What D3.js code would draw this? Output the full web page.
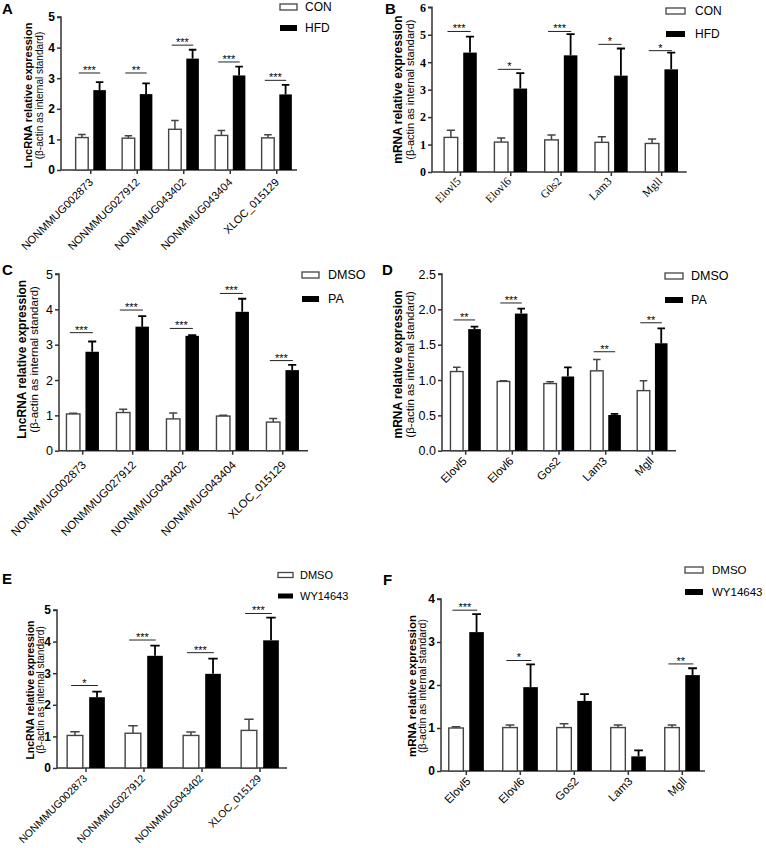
<!DOCTYPE html>
<html><head><meta charset="utf-8">
<script src="https://cdn.jsdelivr.net/npm/d3@7"></script>
<style>body{margin:0;background:#fff}svg{display:block}</style>
</head><body>
<svg id="c" width="766" height="848"></svg>
<script>
// ---------- categories ----------
const lncCats5 = ["NONMMUG002873","NONMMUG027912","NONMMUG043402","NONMMUG043404","XLOC_015129"];
const mrnaCatsB = ["Elovl5","Elovl6","G0s2","Lam3","Mgll"];
const mrnaCats = ["Elovl5","Elovl6","Gos2","Lam3","Mgll"];
const lncCats4 = ["NONMMUG002873","NONMMUG027912","NONMMUG043402","XLOC_015129"];

// ---------- A ----------
const aCon = [1.06,1.04,1.33,1.13,1.05];
const aConSem = [0.10,0.08,0.29,0.16,0.10];
const aHfd = [2.61,2.48,3.64,3.09,2.47];
const aHfdSem = [0.26,0.35,0.29,0.29,0.31];
const aSigLevel = [3.17,3.17,4.08,3.53,2.93];
const aSigText = ["***","**","***","***","***"];
const aTicks = [0,1,2,3,4,5];

// ---------- B ----------
const bCon = [1.26,1.09,1.17,1.08,1.04];
const bConSem = [0.26,0.15,0.18,0.20,0.16];
const bHfd = [4.35,3.04,4.25,3.51,3.74];
const bHfdSem = [0.58,0.56,0.77,0.99,0.61];
const bSigLevel = [5.12,3.74,5.12,4.65,4.42];
const bSigText = ["***","*","***","*","*"];
const bTicks = [0,1,2,3,4,5,6];

// ---------- C ----------
const cDmso = [1.04,1.08,0.90,0.98,0.81];
const cDmsoSem = [0.02,0.09,0.17,0.02,0.10];
const cPa = [2.80,3.51,3.25,3.93,2.28];
const cPaSem = [0.29,0.30,0.02,0.37,0.15];
const cSigLevel = [3.34,3.98,3.46,4.45,2.55];
const cSigText = ["***","***","***","***","***"];
const cTicks = [0,1,2,3,4,5];

// ---------- D ----------
const dDmso = [1.12,0.98,0.95,1.13,0.85];
const dDmsoSem = [0.06,0.01,0.025,0.16,0.14];
const dPa = [1.72,1.94,1.05,0.505,1.52];
const dPaSem = [0.035,0.07,0.13,0.015,0.21];
const dSigLevel = [1.85,2.09,null,1.40,1.81];
const dSigText = ["**","***","","**","**"];
const dTicks = [0,0.5,1.0,1.5,2.0,2.5];

// ---------- E ----------
const eDmso = [1.03,1.10,1.03,1.19];
const eDmsoSem = [0.12,0.24,0.11,0.35];
const eWy = [2.24,3.55,2.98,4.04];
const eWySem = [0.18,0.32,0.48,0.72];
const eSigLevel = [2.61,4.05,3.65,4.89];
const eSigText = ["*","***","***","***"];
const eTicks = [0,1,2,3,4,5];

// ---------- F ----------
const fDmso = [1.00,1.01,1.01,1.01,1.01];
const fDmsoSem = [0.03,0.06,0.09,0.06,0.06];
const fWy = [3.23,1.95,1.63,0.34,2.23];
const fWySem = [0.42,0.53,0.16,0.14,0.16];
const fSigLevel = [3.74,2.57,null,null,2.49];
const fSigText = ["***","*","","","**"];
const fTicks = [0,1,2,3,4];

const svg = d3.select("#c");
const SANS = "Arial, 'Liberation Sans', sans-serif";
const SERIF = "'Liberation Serif', 'Times New Roman', serif";

function panel(o, d) {
  const g = svg.append("g");
  const x = d3.scaleBand().domain(d.cats).range(o.band).padding(0);
  const y = d3.scaleLinear().domain([0, o.yMax]).range([o.yBot, o.yTop]);
  const bw = x.bandwidth();
  const barW = bw * 0.27, gap = bw * 0.11;
  const cx = c => x(c) + bw / 2;
  const x1 = c => cx(c) - gap / 2 - barW;
  const x2 = c => cx(c) + gap / 2;

  // panel letter
  g.append("text").attr("x", o.letter[1]).attr("y", o.letter[2])
    .attr("font-family", SANS).attr("font-weight", "bold").attr("font-size", 15)
    .text(o.letter[0]);

  // y axis
  const ya = d3.axisLeft(y).tickValues(d.ticks).tickSize(4).tickPadding(2)
    .tickFormat(o.tickFmt ? d3.format(o.tickFmt) : d3.format("d"));
  const yg = g.append("g").attr("transform", `translate(${o.x0},0)`).call(ya);
  yg.select(".domain").attr("stroke", "#333").attr("stroke-width", 1.5).attr("d", `M-4,${o.yTop}H0V${o.yBot}`);
  yg.selectAll(".tick line").attr("stroke", "#333").attr("stroke-width", 1.5);
  yg.selectAll(".tick text").attr("font-family", o.tickFamily).attr("font-size", o.tickSize)
    .attr("font-weight", o.tickWeight).attr("fill", "#000");

  // x axis line + ticks
  g.append("line").attr("x1", o.x0).attr("x2", o.x1).attr("y1", o.yBot).attr("y2", o.yBot)
    .attr("stroke", "#333").attr("stroke-width", 1.5);
  d.cats.forEach(c => {
    g.append("line").attr("x1", cx(c)).attr("x2", cx(c)).attr("y1", o.yBot).attr("y2", o.yBot + 4)
      .attr("stroke", "#333").attr("stroke-width", 1.5);
    g.append("text").attr("transform", `translate(${cx(c) + o.xdx},${o.yBot + o.xdy}) rotate(-45)`)
      .attr("text-anchor", "end").attr("font-family", o.xFamily).attr("font-size", o.xSize)
      .attr("fill", "#000").text(c);
  });

  // bars
  d.cats.forEach((c, i) => {
    const v1 = d.s1[i], e1 = d.e1[i], v2 = d.s2[i], e2 = d.e2[i];
    const ex1 = x1(c) + barW / 2, ex2 = x2(c) + barW / 2, cap = barW * 0.3;
    g.append("path").attr("d", `M${ex1},${y(v1)}V${y(v1 + e1)}M${ex1 - cap},${y(v1 + e1)}H${ex1 + cap}`)
      .attr("stroke", "#444").attr("stroke-width", 1.5).attr("fill", "none");
    g.append("path").attr("d", `M${ex2},${y(v2)}V${y(v2 + e2)}M${ex2 - cap},${y(v2 + e2)}H${ex2 + cap}`)
      .attr("stroke", "#000").attr("stroke-width", 1.8).attr("fill", "none");
    g.append("rect").attr("x", x1(c)).attr("y", y(v1)).attr("width", barW).attr("height", o.yBot - y(v1))
      .attr("fill", "#fff").attr("stroke", "#444").attr("stroke-width", 1.4);
    g.append("rect").attr("x", x2(c)).attr("y", y(v2)).attr("width", barW).attr("height", o.yBot - y(v2))
      .attr("fill", "#000");
    if (d.sig[i] != null) {
      const sy = y(d.sig[i]);
      const sx1 = x1(c) + barW * 0.25, sx2 = x2(c) + barW * 0.55;
      g.append("line").attr("x1", sx1).attr("x2", sx2).attr("y1", sy).attr("y2", sy)
        .attr("stroke", "#222").attr("stroke-width", 1);
      g.append("text").attr("x", (sx1 + sx2) / 2).attr("y", sy + 1).attr("text-anchor", "middle")
        .attr("font-family", SANS).attr("font-size", 11).attr("fill", "#000").text(d.sigText[i]);
    }
  });

  // y title
  const tc = (o.yTop + o.yBot) / 2 + (o.tOff || 0);
  g.append("text").attr("transform", `translate(${o.t1x},${tc}) rotate(-90)`).attr("text-anchor", "middle")
    .attr("dominant-baseline", "central")
    .attr("font-family", SANS).attr("font-weight", "bold").attr("font-size", o.t1Size).text(o.title);
  g.append("text").attr("transform", `translate(${o.t2x},${tc}) rotate(-90)`).attr("text-anchor", "middle")
    .attr("dominant-baseline", "central")
    .attr("font-family", SANS).attr("font-size", o.t2Size).text("(β-actin as internal standard)");

  // legend
  const L = o.leg;
  [[d.names[0], L.y1, "#fff"], [d.names[1], L.y2, "#000"]].forEach(([name, yy, fill]) => {
    g.append("rect").attr("x", L.x).attr("y", yy - L.h / 2).attr("width", L.w).attr("height", L.h)
      .attr("fill", fill).attr("stroke", fill === "#fff" ? "#444" : "none").attr("stroke-width", 1.3);
    g.append("text").attr("x", L.tx).attr("y", yy).attr("dominant-baseline", "central")
      .attr("font-family", SANS).attr("font-size", L.size).attr("fill", "#000").text(name);
  });
}

// A
panel({letter:["A",2,14], x0:61, x1:297, band:[67.5,300], yTop:17, yBot:170, yMax:5,
  tickFamily:SANS, tickSize:12, tickWeight:"bold", xFamily:SANS, xSize:11, xdx:3, xdy:13,
  title:"LncRNA relative expression", t1x:28, t2x:39, t1Size:11, t2Size:10, tOff:2,
  leg:{x:280, w:17, h:6, y1:7, y2:28, tx:305, size:12}},
  {cats:lncCats5, ticks:aTicks, s1:aCon, e1:aConSem, s2:aHfd, e2:aHfdSem, sig:aSigLevel, sigText:aSigText, names:["CON","HFD"]});

// B
panel({letter:["B",385,14], x0:432, x1:686.7, band:[435.3,686.8], yTop:7.3, yBot:172, yMax:6,
  tickFamily:SERIF, tickSize:12, tickWeight:"bold", xFamily:SERIF, xSize:11.5, xdx:1, xdy:10,
  title:"mRNA relative expression", t1x:398, t2x:410, t1Size:12, t2Size:11, tOff:0,
  leg:{x:666, w:19, h:6, y1:11, y2:34, tx:695, size:12}},
  {cats:mrnaCatsB, ticks:bTicks, s1:bCon, e1:bConSem, s2:bHfd, e2:bHfdSem, sig:bSigLevel, sigText:bSigText, names:["CON","HFD"]});

// C
panel({letter:["C",2,275], x0:59, x1:308, band:[57.7,307.7], yTop:274, yBot:450.7, yMax:5,
  tickFamily:SANS, tickSize:12.5, tickWeight:"normal", xFamily:SANS, xSize:11.5, xdx:4, xdy:15,
  title:"LncRNA relative expression", t1x:22, t2x:34, t1Size:12, t2Size:11.5, tOff:-3,
  leg:{x:302, w:17, h:6, y1:275, y2:299, tx:328, size:12.5}},
  {cats:lncCats5, ticks:cTicks, s1:cDmso, e1:cDmsoSem, s2:cPa, e2:cPaSem, sig:cSigLevel, sigText:cSigText, names:["DMSO","PA"]});

// D
panel({letter:["D",382,275], x0:442, x1:676, band:[442.3,675.7], yTop:274, yBot:450.7, yMax:2.5,
  tickFamily:SANS, tickSize:12.5, tickWeight:"normal", tickFmt:".1f", xFamily:SANS, xSize:11.5, xdx:2, xdy:11,
  title:"mRNA relative expression", t1x:398, t2x:410, t1Size:12, t2Size:11.5, tOff:2,
  leg:{x:665, w:18, h:6, y1:276, y2:300, tx:691, size:12.5}},
  {cats:mrnaCats, ticks:dTicks, s1:dDmso, e1:dDmsoSem, s2:dPa, e2:dPaSem, sig:dSigLevel, sigText:dSigText, names:["DMSO","PA"]});

// E
panel({letter:["E",2,584], x0:57, x1:287, band:[57,289], yTop:610, yBot:768, yMax:5,
  tickFamily:SANS, tickSize:12, tickWeight:"bold", xFamily:SANS, xSize:10.5, xdx:2, xdy:11,
  title:"LncRNA relative expression", t1x:30, t2x:40, t1Size:10.5, t2Size:10, tOff:1,
  leg:{x:278, w:15, h:5, y1:575, y2:596, tx:300, size:11}},
  {cats:lncCats4, ticks:eTicks, s1:eDmso, e1:eDmsoSem, s2:eWy, e2:eWySem, sig:eSigLevel, sigText:eSigText, names:["DMSO","WY14643"]});

// F
panel({letter:["F",383,585], x0:441, x1:705, band:[439.3,709.3], yTop:599, yBot:771, yMax:4,
  tickFamily:SANS, tickSize:12, tickWeight:"bold", xFamily:SANS, xSize:11.5, xdx:5, xdy:11,
  title:"mRNA relative expression", t1x:412, t2x:422, t1Size:11.5, t2Size:10.5, tOff:1,
  leg:{x:685, w:18, h:6, y1:570, y2:592, tx:712, size:11.5}},
  {cats:mrnaCats, ticks:fTicks, s1:fDmso, e1:fDmsoSem, s2:fWy, e2:fWySem, sig:fSigLevel, sigText:fSigText, names:["DMSO","WY14643"]});
</script>
</body></html>
